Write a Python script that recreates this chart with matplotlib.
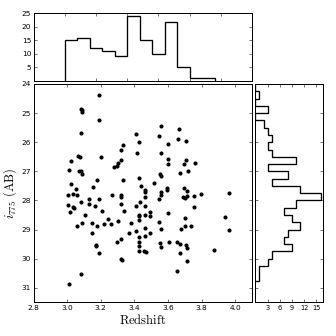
import numpy as np
import matplotlib
matplotlib.use('Agg')
import matplotlib.pyplot as plt

# redshift and i775 magnitude of each object
redshift = [3.19, 3.083, 3.089, 3.087, 3.19, 3.081, 3.407, 3.559, 3.665, 3.549,
            3.427, 3.598, 3.658, 3.707, 3.332, 3.32, 3.415, 3.559, 3.065, 3.077,
            3.20, 3.022, 3.598, 3.709, 3.318, 3.598, 3.302, 3.296, 3.278, 3.695,
            3.76, 3.01, 3.071, 3.083, 3.09, 3.719, 3.67, 3.553, 3.559, 3.177,
            3.334, 3.428, 3.519, 3.022, 3.438, 3.154, 3.697, 3.597, 3.051, 3.466,
            3.593, 3.713, 3.561, 3.466, 3.964, 3.796, 3.559, 3.007, 3.061, 3.037,
            3.268, 3.322, 3.318, 3.466, 3.754, 3.689, 3.701, 3.712, 3.545, 3.187,
            3.128, 3.085, 3.004, 3.037, 3.039, 3.128, 3.164, 3.32, 3.407, 3.432,
            3.466, 3.754, 3.019, 3.209, 3.338, 3.427, 3.427, 3.427, 3.466, 3.492,
            3.492, 3.598, 3.699, 3.938, 3.108, 3.241, 3.15, 3.221, 3.261, 3.30,
            3.087, 3.061, 3.176, 3.377, 3.549, 3.701, 3.737, 3.466, 3.559, 3.677,
            3.966, 3.411, 3.148, 3.369, 3.492, 3.466, 3.428, 3.318, 3.298, 3.428,
            3.551, 3.605, 3.656, 3.67, 3.705, 3.17, 3.17, 3.428, 3.559, 3.712,
            3.428, 3.458, 3.468, 3.875, 3.19, 3.67, 3.318, 3.328, 3.712, 3.656,
            3.085, 3.01]
mag = [24.37, 24.85, 24.95, 24.89, 25.25, 25.69, 25.73, 25.43, 25.54, 25.80,
       25.99, 26.05, 25.90, 25.95, 26.10, 26.28, 26.37, 26.38, 26.46, 26.50,
       26.50, 26.64, 26.58, 26.62, 26.62, 26.74, 26.71, 26.80, 26.86, 26.74,
       26.71, 26.96, 27.00, 27.00, 27.10, 26.99, 27.06, 27.08, 27.15, 27.30,
       27.29, 27.24, 27.40, 27.43, 27.50, 27.55, 27.56, 27.57, 27.62, 27.64,
       27.64, 27.66, 27.72, 27.72, 27.73, 27.78, 27.80, 27.82, 27.82, 27.77,
       27.82, 27.82, 27.88, 27.88, 27.84, 27.89, 27.91, 27.86, 27.94, 27.96,
       27.96, 28.06, 28.15, 28.21, 28.27, 28.12, 28.19, 28.13, 28.20, 28.05,
       28.19, 28.22, 28.38, 28.36, 28.35, 28.49, 28.55, 28.66, 28.49, 28.41,
       28.52, 28.44, 28.60, 28.57, 28.49, 28.64, 28.76, 28.80, 28.80, 28.72,
       28.79, 28.86, 28.89, 28.77, 28.73, 28.88, 28.89, 28.95, 28.99, 28.99,
       29.03, 29.04, 29.13, 29.11, 29.11, 29.21, 29.26, 29.31, 29.42, 29.43,
       29.45, 29.44, 29.41, 29.50, 29.54, 29.53, 29.58, 29.55, 29.61, 29.63,
       29.75, 29.72, 29.77, 29.71, 29.81, 29.81, 30.01, 30.04, 30.09, 30.43,
       30.53, 30.87]

# histogram counts as drawn in the side panels
z_edges = np.arange(3.0, 4.0, 0.08)
z_counts = [15, 16, 12, 11, 9, 24, 15, 10, 22, 5, 1, 1]
mag_edges = np.arange(24.0, 31.0, 0.25)
mag_counts = [0, 1, 0, 3, 0, 2, 3, 4, 3, 4, 10, 3, 8, 4, 11, 16, 10, 7, 9,
              11, 8, 7, 9, 4, 3, 1, 1]

plt.rcParams['mathtext.fontset'] = 'cm'
plt.rcParams['xtick.direction'] = 'in'
plt.rcParams['ytick.direction'] = 'in'
plt.rcParams['xtick.top'] = True
plt.rcParams['ytick.right'] = True
plt.rcParams['xtick.major.size'] = 5
plt.rcParams['ytick.major.size'] = 5
plt.rcParams['axes.linewidth'] = 1.5

fig = plt.figure(figsize=(7, 7), dpi=48)
ax = fig.add_axes([0.1, 0.1, 0.65, 0.65])
ax_top = fig.add_axes([0.1, 0.76, 0.65, 0.2])
ax_right = fig.add_axes([0.76, 0.1, 0.2, 0.65])

ax.scatter(redshift, mag, s=38, c='k', linewidths=0)
ax.set_xlim(2.8, 4.1)
ax.set_ylim(31.5, 24)
ax.set_xticks(np.arange(2.8, 4.01, 0.2))
ax.set_yticks(np.arange(24, 32, 1))
ax.tick_params(labelsize=11)
ax.set_xlabel(r'$\rm Redshift$', fontsize=19)
ax.set_ylabel(r'$i_{775}\ \rm (AB)$', fontsize=19)

ax_top.stairs(z_counts, z_edges, color='k', lw=2)
ax_top.set_xlim(2.8, 4.2)
ax_top.set_ylim(0, 25)
ax_top.set_xticks(np.arange(2.8, 4.21, 0.2))
ax_top.set_yticks([5, 10, 15, 20, 25])
ax_top.set_xticklabels([])
ax_top.tick_params(labelsize=11)

ax_right.stairs(mag_counts, mag_edges, orientation='horizontal', color='k', lw=2)
ax_right.set_ylim(31.5, 24)
ax_right.set_xlim(0, 16.5)
ax_right.set_yticks(np.arange(24, 32, 1))
ax_right.set_xticks([3, 6, 9, 12, 15])
ax_right.set_yticklabels([])
ax_right.tick_params(labelsize=10)

fig.savefig('out.png', dpi=48, facecolor='white')
